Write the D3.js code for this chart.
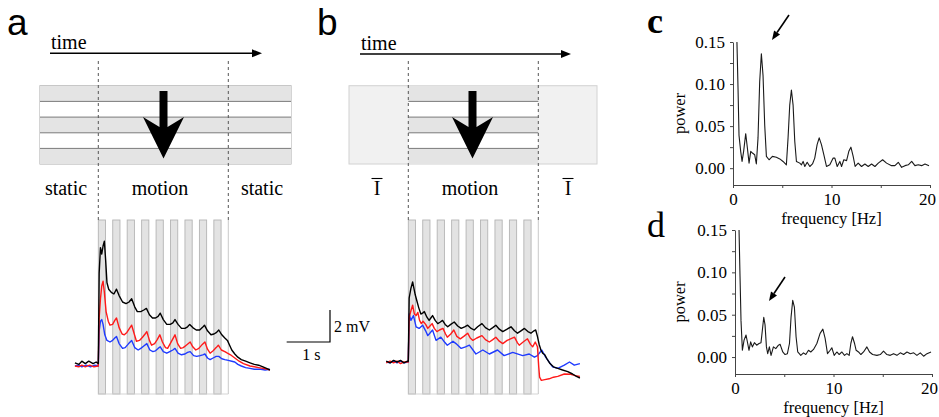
<!DOCTYPE html>
<html>
<head>
<meta charset="utf-8">
<script src="https://cdn.jsdelivr.net/npm/d3@7"></script>
<style>
  body { margin: 0; background: #fff; }
  svg { display: block; }
  text { font-family: "Liberation Serif", "Times New Roman", serif; }
</style>
</head>
<body>
<svg id="fig" width="939" height="417"></svg>
<script>
// ---- membrane potential traces [time s, mV] ----
var aBlack = [[-0.54,0.2],[-0.45,0.1],[-0.38,0.3],[-0.3,0.15],[-0.22,0.3],[-0.12,0.15],[-0.05,0.25],[0.0,0.15],[0.02,5.8],[0.05,7.4],[0.08,7.0],[0.11,7.5],[0.14,7.8],[0.17,6.6],[0.2,5.2],[0.24,4.8],[0.3,4.6],[0.36,4.5],[0.42,4.8],[0.48,4.4],[0.56,4.0],[0.64,3.9],[0.71,4.0],[0.77,4.2],[0.84,3.7],[0.9,3.4],[0.98,3.4],[1.05,3.5],[1.11,3.6],[1.18,3.2],[1.25,3.0],[1.32,3.0],[1.38,3.1],[1.43,3.3],[1.5,2.9],[1.58,2.6],[1.66,2.6],[1.72,2.7],[1.77,2.9],[1.84,2.6],[1.92,2.35],[2.0,2.35],[2.06,2.45],[2.11,2.6],[2.18,2.4],[2.26,2.25],[2.34,2.25],[2.4,2.4],[2.45,2.55],[2.52,2.2],[2.6,1.95],[2.67,2.0],[2.73,2.1],[2.78,2.25],[2.85,1.95],[2.92,1.75],[2.98,1.6],[3.03,1.3],[3.08,1.0],[3.15,0.75],[3.22,0.55],[3.3,0.4],[3.4,0.3],[3.5,0.2],[3.6,0.1],[3.7,0.05],[3.8,-0.05],[3.88,-0.15],[3.96,-0.25]];
var aRed = [[-0.54,0.0],[-0.45,-0.05],[-0.38,0.05],[-0.3,-0.05],[-0.2,0.05],[-0.1,-0.05],[0.0,0.0],[0.02,3.0],[0.05,4.2],[0.08,5.0],[0.11,5.3],[0.14,4.6],[0.18,3.4],[0.23,2.8],[0.27,2.55],[0.33,2.6],[0.38,2.85],[0.42,3.0],[0.48,2.4],[0.55,2.0],[0.6,1.95],[0.66,2.1],[0.72,2.35],[0.77,2.55],[0.83,2.0],[0.88,1.55],[0.95,1.6],[1.02,1.8],[1.08,2.0],[1.12,2.15],[1.18,1.6],[1.23,1.3],[1.3,1.4],[1.36,1.65],[1.42,1.95],[1.48,1.5],[1.55,1.15],[1.6,1.1],[1.66,1.4],[1.72,1.7],[1.77,1.95],[1.83,1.4],[1.9,1.1],[1.96,1.15],[2.03,1.3],[2.12,1.5],[2.18,1.2],[2.25,1.0],[2.32,1.1],[2.4,1.35],[2.46,1.5],[2.52,1.05],[2.58,0.8],[2.65,0.95],[2.72,1.15],[2.77,1.3],[2.84,1.0],[2.92,0.9],[2.98,0.8],[3.05,0.7],[3.15,0.5],[3.25,0.3],[3.35,0.15],[3.5,0.0],[3.6,-0.05],[3.7,-0.1],[3.8,-0.15],[3.9,-0.2],[3.96,-0.25]];
var aBlue = [[-0.54,0.0],[-0.45,0.05],[-0.38,-0.05],[-0.28,0.05],[-0.18,-0.05],[-0.08,0.05],[0.0,0.0],[0.02,2.2],[0.05,2.8],[0.08,2.9],[0.11,2.6],[0.15,1.95],[0.2,1.6],[0.27,1.5],[0.33,1.6],[0.38,1.75],[0.42,1.85],[0.48,1.4],[0.56,1.1],[0.62,1.15],[0.7,1.4],[0.77,1.6],[0.84,1.15],[0.92,1.0],[0.98,1.1],[1.05,1.25],[1.12,1.4],[1.19,1.0],[1.26,0.9],[1.32,0.95],[1.38,1.1],[1.43,1.2],[1.5,0.9],[1.58,0.8],[1.65,0.9],[1.72,1.0],[1.77,1.1],[1.84,0.8],[1.92,0.7],[2.0,0.75],[2.06,0.85],[2.12,0.9],[2.2,0.65],[2.27,0.6],[2.35,0.65],[2.41,0.7],[2.46,0.75],[2.52,0.5],[2.58,0.4],[2.65,0.5],[2.72,0.6],[2.78,0.6],[2.85,0.45],[2.92,0.4],[3.0,0.35],[3.08,0.3],[3.15,0.25],[3.22,0.1],[3.3,0.0],[3.4,-0.1],[3.5,-0.15],[3.6,-0.2],[3.75,-0.2],[3.85,-0.25],[3.96,-0.2]];

var bBlack = [[-0.51,0.05],[-0.42,-0.05],[-0.34,0.1],[-0.26,0.0],[-0.18,0.1],[-0.1,-0.05],[-0.02,0.05],[0.0,0.05],[0.02,4.0],[0.06,4.6],[0.1,5.0],[0.13,4.6],[0.16,4.2],[0.2,3.8],[0.24,3.4],[0.29,3.0],[0.33,3.05],[0.37,3.15],[0.43,2.8],[0.48,2.6],[0.52,2.75],[0.56,2.9],[0.62,2.6],[0.68,2.4],[0.74,2.5],[0.79,2.6],[0.85,2.35],[0.91,2.2],[0.98,2.35],[1.06,2.5],[1.14,2.25],[1.22,2.1],[1.3,2.2],[1.37,2.3],[1.45,2.1],[1.52,2.0],[1.6,2.2],[1.7,2.4],[1.78,2.15],[1.87,2.0],[1.95,2.15],[2.02,2.3],[2.1,2.05],[2.18,1.9],[2.28,2.05],[2.37,2.2],[2.45,1.95],[2.52,1.8],[2.6,1.95],[2.68,2.1],[2.76,1.9],[2.83,1.8],[2.9,1.95],[2.94,2.0],[2.98,1.6],[3.02,1.1],[3.06,0.75],[3.1,0.55],[3.15,0.45],[3.2,0.2],[3.27,-0.1],[3.35,-0.3],[3.45,-0.4],[3.56,-0.5],[3.68,-0.6],[3.79,-0.75],[3.88,-0.9],[3.96,-1.0]];
var bRed = [[-0.51,-0.05],[-0.42,0.05],[-0.34,-0.05],[-0.26,0.05],[-0.18,-0.1],[-0.1,0.0],[0.0,0.0],[0.02,2.8],[0.06,3.2],[0.1,3.55],[0.14,3.0],[0.18,2.9],[0.22,3.1],[0.26,2.6],[0.3,2.4],[0.34,2.55],[0.4,2.35],[0.45,2.1],[0.5,2.25],[0.55,2.4],[0.6,2.1],[0.66,1.9],[0.72,2.0],[0.8,2.1],[0.86,1.75],[0.9,1.55],[0.98,1.75],[1.05,2.0],[1.12,1.6],[1.2,1.45],[1.28,1.6],[1.37,1.8],[1.43,1.5],[1.49,1.35],[1.58,1.5],[1.7,1.65],[1.78,1.4],[1.87,1.25],[1.95,1.4],[2.02,1.55],[2.1,1.3],[2.18,1.15],[2.28,1.35],[2.45,1.55],[2.52,1.2],[2.56,1.05],[2.65,1.25],[2.75,1.45],[2.82,1.1],[2.87,0.95],[2.93,1.25],[2.98,0.95],[3.01,-0.3],[3.03,-0.95],[3.07,-1.15],[3.15,-1.1],[3.25,-1.05],[3.35,-0.95],[3.45,-0.9],[3.6,-0.75],[3.75,-0.77],[3.85,-0.85],[3.96,-0.9]];
var bBlue = [[-0.51,0.0],[-0.42,-0.05],[-0.34,0.05],[-0.26,-0.05],[-0.18,0.05],[-0.1,-0.05],[0.0,0.0],[0.02,3.0],[0.06,2.6],[0.12,2.9],[0.18,2.2],[0.25,2.1],[0.33,2.3],[0.4,1.95],[0.45,1.65],[0.56,2.0],[0.64,1.35],[0.75,1.55],[0.82,1.3],[0.9,1.05],[1.03,1.3],[1.1,1.15],[1.22,0.85],[1.32,0.95],[1.41,1.05],[1.56,0.5],[1.72,0.75],[1.87,0.5],[2.06,0.75],[2.21,0.4],[2.41,0.6],[2.64,0.4],[2.79,0.5],[2.91,0.3],[2.98,0.4],[3.08,0.75],[3.17,0.3],[3.33,-0.3],[3.45,-0.4],[3.6,-0.2],[3.72,0.0],[3.83,-0.2],[3.96,-0.1]];

// grating cycles during the 3 s motion window (3 Hz)
var motionWindow = [0, 3];
var stripeOnsets = [0, 0.3333, 0.6667, 1, 1.3333, 1.6667, 2, 2.3333, 2.6667];
var stripePeriod = 0.3333;

// ---- power spectra [frequency Hz, power] ----
var specC = [[0.4,0.15],[0.51,0.095],[0.61,0.039],[0.78,0.02],[0.92,0.008],[1.08,0.02],[1.29,0.041],[1.46,0.024],[1.63,0.006],[1.8,0.02],[1.97,0.018],[2.2,0.016],[2.37,0.005],[2.54,0.036],[2.71,0.103],[2.88,0.136],[3.05,0.11],[3.22,0.051],[3.39,0.014],[3.66,0.01],[4.0,0.014],[4.4,0.013],[4.75,0.011],[5.08,0.008],[5.42,0.004],[5.59,0.036],[5.76,0.075],[5.93,0.093],[6.1,0.075],[6.27,0.032],[6.44,0.008],[6.78,0.006],[6.95,0.004],[7.12,0.008],[7.29,0.002],[7.53,0.007],[7.8,0.002],[8.07,0.005],[8.3,0.012],[8.54,0.028],[8.75,0.036],[8.98,0.028],[9.22,0.016],[9.49,0.002],[9.83,0.004],[10.17,0.012],[10.34,0.012],[10.58,0.002],[10.85,0.008],[11.02,0.002],[11.25,0.01],[11.53,0.009],[11.76,0.02],[11.97,0.025],[12.2,0.014],[12.4,0.002],[12.71,0.006],[13.05,0.002],[13.39,0.005],[13.73,0.002],[14.07,0.005],[14.41,0.002],[14.75,0.006],[15.19,0.01],[15.59,0.006],[16.1,0.003],[16.44,0.003],[16.78,0.007],[17.12,0.001],[17.46,0.003],[17.8,0.004],[18.14,0.008],[18.47,0.003],[18.81,0.004],[19.15,0.003],[19.49,0.005],[19.9,0.003]];
var specD = [[0.41,0.15],[0.51,0.095],[0.61,0.043],[0.75,0.008],[0.92,0.02],[1.12,0.026],[1.29,0.016],[1.42,0.008],[1.59,0.018],[1.76,0.012],[1.97,0.017],[2.2,0.014],[2.44,0.016],[2.64,0.017],[2.78,0.032],[2.92,0.047],[3.05,0.038],[3.19,0.012],[3.32,0.004],[3.49,0.012],[3.66,0.002],[3.9,0.012],[4.14,0.01],[4.41,0.014],[4.58,0.015],[4.85,0.006],[5.08,0.003],[5.32,0.004],[5.53,0.016],[5.69,0.047],[5.86,0.067],[6.03,0.059],[6.2,0.024],[6.37,0.006],[6.68,0.002],[6.95,0.005],[7.19,0.003],[7.46,0.008],[7.69,0.006],[7.97,0.009],[8.31,0.016],[8.64,0.028],[8.92,0.033],[9.15,0.022],[9.39,0.004],[9.66,0.008],[9.83,0.011],[10.07,0.002],[10.34,0.006],[10.58,0.003],[10.85,0.006],[11.12,0.002],[11.36,0.004],[11.59,0.002],[11.76,0.016],[11.93,0.024],[12.14,0.016],[12.3,0.008],[12.54,0.006],[12.78,0.003],[13.05,0.006],[13.39,0.012],[13.66,0.006],[13.97,0.003],[14.41,0.002],[14.75,0.003],[15.08,0.007],[15.42,0.003],[15.76,0.002],[16.1,0.004],[16.44,0.002],[16.78,0.005],[17.12,0.003],[17.46,0.006],[17.8,0.004],[18.14,0.005],[18.47,0.002],[18.81,0.005],[19.15,0.001],[19.49,0.004],[19.9,0.006]];

var powerTicks = [0, 0.025, 0.05, 0.075, 0.1, 0.125, 0.15];
var powerLabels = [0, 0.05, 0.1, 0.15];
var freqTicks = [0, 5, 10, 15, 20];
var freqLabels = [0, 10, 20];

var svg = d3.select('#fig');
svg.append('rect').attr('width', 939).attr('height', 417).attr('fill', '#fff');

// ---------- stimulus cartoon (top of a and b) ----------
function timeArrow(x0, x1, y) {
    svg.append('line').attr('x1', x0).attr('x2', x1 - 8).attr('y1', y).attr('y2', y)
        .attr('stroke', '#000').attr('stroke-width', 1.5);
    svg.append('path').attr('d', 'M' + x1 + ',' + y + 'L' + (x1 - 10) + ',' + (y - 4) + 'L' + (x1 - 10) + ',' + (y + 4) + 'Z')
        .attr('fill', '#000');
    svg.append('text').attr('x', x0 + 1).attr('y', y - 4).style('font-size', '20px').text('time');
}

function bands(x0, x1) {
    var yb = [85.7, 101.4, 117.1, 132.8, 148.4, 164];
    for (var i = 0; i < 5; i++) {
        svg.append('rect').attr('x', x0).attr('y', yb[i]).attr('width', x1 - x0).attr('height', yb[i + 1] - yb[i])
            .attr('fill', i % 2 === 0 ? '#e4e4e4' : '#fff');
    }
    for (var j = 1; j < 5; j++) {
        svg.append('line').attr('x1', x0).attr('x2', x1).attr('y1', yb[j]).attr('y2', yb[j])
            .attr('stroke', '#7a7a7a').attr('stroke-width', 1);
    }
}

function bigArrow(cx) {
    var p = [[cx - 4, 91], [cx + 4, 91], [cx + 4, 127], [cx + 20.5, 117], [cx, 158.5], [cx - 20.5, 117], [cx - 4, 127]];
    svg.append('path').attr('d', 'M' + p.join('L') + 'Z').attr('fill', '#000');
}

function dashed(x) {
    svg.append('line').attr('x1', x).attr('x2', x).attr('y1', 61).attr('y2', 220)
        .attr('stroke', '#555').attr('stroke-width', 1).attr('stroke-dasharray', '3,3');
}

function label(x, y, s, anchor) {
    svg.append('text').attr('x', x).attr('y', y).attr('text-anchor', anchor || 'middle')
        .style('font-size', '20px').text(s);
}

function overlineI(cx) {
    label(cx, 195, 'I');
    svg.append('line').attr('x1', cx - 5.5).attr('x2', cx + 5.5).attr('y1', 178.5).attr('y2', 178.5)
        .attr('stroke', '#000').attr('stroke-width', 1.1);
}

// ---------- traces ----------
function tracePanel(x, y, traces) {
    var g = svg.append('g');
    stripeOnsets.forEach(function(s) {
        g.append('rect').attr('x', x(s)).attr('y', 220).attr('width', x(s + stripePeriod / 2) - x(s)).attr('height', 174)
            .attr('fill', '#e3e3e3').attr('stroke', '#b4b4b4').attr('stroke-width', 0.9);
    });
    g.append('line').attr('x1', x(motionWindow[1])).attr('x2', x(motionWindow[1])).attr('y1', 220).attr('y2', 394)
        .attr('stroke', '#c4c4c4').attr('stroke-width', 0.9);
    g.append('line').attr('x1', x(motionWindow[0])).attr('x2', x(motionWindow[1])).attr('y1', 394).attr('y2', 394)
        .attr('stroke', '#d0d0d0').attr('stroke-width', 0.9);
    var line = d3.line().x(function(d) { return x(d[0]); }).y(function(d) { return y(d[1]); });
    traces.forEach(function(t) {
        g.append('path').datum(t.data).attr('d', line).attr('fill', 'none')
            .attr('stroke', t.color).attr('stroke-width', 1.4).attr('stroke-linejoin', 'round');
    });
    motionWindow.forEach(function(t) { dashed(x(t)); });
}

var xA = d3.scaleLinear().domain([0, 3]).range([98.3, 228.3]);
var yA = d3.scaleLinear().domain([0, 2]).range([366, 334]);
var xB = d3.scaleLinear().domain([0, 3]).range([408.3, 538.3]);
var yB = d3.scaleLinear().domain([0, 2]).range([362, 330]);

// panel a
svg.append('text').attr('x', 7).attr('y', 35).style('font-family', '"Liberation Sans", Arial, sans-serif')
    .style('font-size', '37px').text('a');
timeArrow(50, 262, 53.3);
svg.append('rect').attr('x', 40).attr('y', 85.7).attr('width', 251).attr('height', 78.3)
    .attr('fill', 'none').attr('stroke', '#aaa');
bands(40, 291);
bigArrow(163.5);
label(66, 195, 'static');
label(160, 195, 'motion');
label(262, 195, 'static');
tracePanel(xA, yA, [{data: aBlue, color: '#1f3bff'}, {data: aRed, color: '#ff1a1a'}, {data: aBlack, color: '#000'}]);

// scale bar
var sbX = 330, sbY = 342;
var sbW = xA(1) - xA(0), sbH = yA(0) - yA(2);
svg.append('path').attr('d', 'M' + (sbX - sbW) + ',' + sbY + 'H' + sbX + 'V' + (sbY - sbH))
    .attr('fill', 'none').attr('stroke', '#000').attr('stroke-width', 1.2);
svg.append('text').attr('x', sbX + 4).attr('y', 332).style('font-size', '16px').text('2 mV');
svg.append('text').attr('x', sbX - sbW / 2 + 3).attr('y', 360).attr('text-anchor', 'middle').style('font-size', '16px').text('1 s');

// panel b
svg.append('text').attr('x', 317).attr('y', 35).style('font-family', '"Liberation Sans", Arial, sans-serif')
    .style('font-size', '37px').text('b');
timeArrow(360, 571, 54);
svg.append('rect').attr('x', 349).attr('y', 85.7).attr('width', 248).attr('height', 78.3)
    .attr('fill', '#f1f1f1').attr('stroke', '#d2d2d2');
bands(xB(0), xB(3));
bigArrow(472.5);
overlineI(377);
label(470, 195, 'motion');
overlineI(568);
tracePanel(xB, yB, [{data: bBlue, color: '#1f3bff'}, {data: bRed, color: '#ff1a1a'}, {data: bBlack, color: '#000'}]);

// ---------- spectra c, d ----------
function spectrum(letter, letterY, letterWeight, data, xr, yr, arrow) {
    var x = d3.scaleLinear().domain([0, 20]).range(xr);
    var y = d3.scaleLinear().domain([-0.02, 0.15]).range(yr);
    var g = svg.append('g');

    var ay = g.append('g').attr('transform', 'translate(' + xr[0] + ',0)')
        .call(d3.axisLeft(y).tickValues(powerTicks).tickSize(3).tickSizeOuter(0).tickPadding(5)
            .tickFormat(function(d) { return powerLabels.some(function(v) { return Math.abs(v - d) < 1e-9; }) ? d3.format('.2f')(d) : ''; }));
    var ax = g.append('g').attr('transform', 'translate(0,' + yr[0] + ')')
        .call(d3.axisBottom(x).tickValues(freqTicks).tickSize(3).tickSizeOuter(0).tickPadding(5)
            .tickFormat(function(d) { return freqLabels.indexOf(d) >= 0 ? d : ''; }));
    [ay, ax].forEach(function(a) {
        a.selectAll('path, line').attr('stroke', '#444');
        a.selectAll('text').attr('fill', '#000').style('font-family', '"Liberation Serif", "Times New Roman", serif').style('font-size', '17px');
    });
    // keep the last frequency label inside the frame
    ax.selectAll('.tick text').filter(function(d) { return d === 20; }).attr('dx', '-3');

    g.append('path').datum(data)
        .attr('d', d3.line().x(function(d) { return x(d[0]); }).y(function(d) { return y(d[1]); }))
        .attr('fill', 'none').attr('stroke', '#1a1a1a').attr('stroke-width', 1.1).attr('stroke-linejoin', 'round');

    g.append('text').attr('transform', 'translate(685,' + ((yr[0] + yr[1]) / 2) + ') rotate(-90)')
        .attr('text-anchor', 'middle').style('font-size', '16.5px').text('power');
    g.append('text').attr('x', (xr[0] + xr[1]) / 2).attr('y', yr[0] + 39)
        .attr('text-anchor', 'middle').style('font-size', '16.5px').text('frequency [Hz]');
    g.append('text').attr('x', 647).attr('y', letterY).style('font-size', '36px')
        .style('font-weight', letterWeight).text(letter);

    // arrow pointing at the 3 Hz peak
    var ang = Math.atan2(arrow[3] - arrow[1], arrow[2] - arrow[0]);
    var hl = 9, hw = 3.6;
    var bx = arrow[2] - hl * Math.cos(ang), by = arrow[3] - hl * Math.sin(ang);
    g.append('line').attr('x1', arrow[0]).attr('y1', arrow[1]).attr('x2', bx).attr('y2', by)
        .attr('stroke', '#000').attr('stroke-width', 1.6);
    g.append('path').attr('d', 'M' + arrow[2] + ',' + arrow[3] +
        'L' + (bx - hw * Math.sin(ang)) + ',' + (by + hw * Math.cos(ang)) +
        'L' + (bx + hw * Math.sin(ang)) + ',' + (by - hw * Math.cos(ang)) + 'Z').attr('fill', '#000');
}

spectrum('c', 33, 'bold', specC, [733, 930], [185, 42], [789, 15, 772, 40]);
spectrum('d', 237, 'normal', specD, [735, 932], [374, 230], [785, 277, 769, 301]);
</script>
</body>
</html>
